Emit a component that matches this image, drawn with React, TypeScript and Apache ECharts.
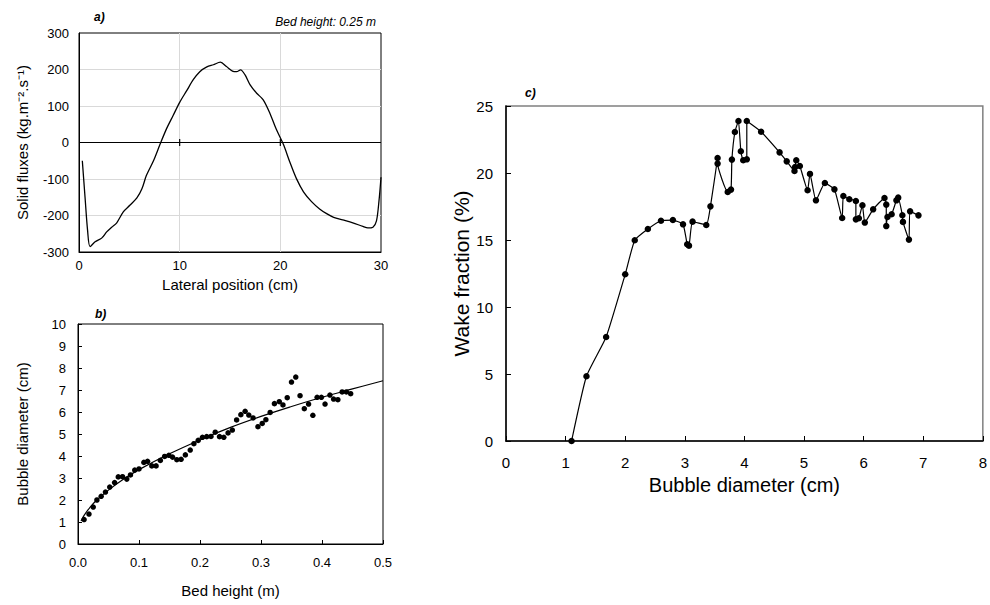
import React, { useEffect, useRef } from "react";
import * as echarts from "echarts";

// Panel a) solid fluxes vs lateral position (bed height 0.25 m)
const fluxX = [0.33, 0.6, 0.85, 1.1, 1.6, 2.25, 2.75, 3.25, 3.75, 4.4, 5.05, 5.75, 6.25, 6.7, 7.4, 8.05, 8.7, 9.35, 10.0, 10.7, 11.35, 12.0, 12.7, 13.35, 14.05, 14.65, 15.3, 15.65, 16.05, 16.5, 17.0, 17.65, 18.3, 18.95, 19.6, 20.3, 20.95, 21.6, 22.3, 23.1, 23.9, 24.6, 25.3, 26.2, 27.2, 28.2, 28.7, 29.2, 29.55, 29.8, 30.0];
const fluxY = [-50, -150, -240, -285, -272, -262, -245, -232, -220, -190, -172, -152, -127, -90, -50, -5, 38, 74, 110, 142, 172, 194, 207, 213, 220, 208, 195, 194, 199, 185, 158, 135, 117, 81, 36, -5, -54, -99, -135, -162, -182, -195, -205, -212, -220, -230, -234, -232, -215, -160, -95];
const fluxTicks = [10, 20];

// Panel b) bubble diameter vs bed height
const bedH = [0.010, 0.018, 0.025, 0.031, 0.038, 0.045, 0.052, 0.060, 0.066, 0.073, 0.080, 0.086, 0.093, 0.100, 0.108, 0.114, 0.121, 0.128, 0.135, 0.142, 0.149, 0.155, 0.162, 0.169, 0.176, 0.184, 0.190, 0.197, 0.204, 0.211, 0.218, 0.225, 0.232, 0.239, 0.246, 0.253, 0.260, 0.267, 0.274, 0.280, 0.287, 0.295, 0.302, 0.308, 0.315, 0.322, 0.330, 0.336, 0.343, 0.350, 0.357, 0.364, 0.371, 0.378, 0.385, 0.392, 0.399, 0.405, 0.413, 0.419, 0.426, 0.433, 0.440, 0.447];
const bubD = [1.11, 1.36, 1.68, 2.00, 2.17, 2.36, 2.59, 2.79, 3.05, 3.06, 2.95, 3.14, 3.36, 3.41, 3.71, 3.76, 3.55, 3.55, 3.80, 3.98, 4.03, 3.95, 3.83, 3.85, 4.05, 4.27, 4.56, 4.71, 4.85, 4.88, 4.89, 5.08, 4.88, 4.85, 5.05, 5.18, 5.64, 5.88, 6.03, 5.86, 5.73, 5.33, 5.48, 5.65, 5.98, 6.38, 6.47, 6.32, 6.65, 7.36, 7.59, 6.74, 6.15, 6.36, 5.85, 6.67, 6.67, 6.36, 6.77, 6.59, 6.56, 6.91, 6.91, 6.83];
const fitH = [0.005, 0.01, 0.02, 0.03, 0.05, 0.075, 0.1, 0.15, 0.2, 0.25, 0.3, 0.35, 0.4, 0.45, 0.5];
const fitD = [1.05, 1.3, 1.68, 1.98, 2.45, 2.95, 3.38, 4.1, 4.73, 5.3, 5.8, 6.25, 6.67, 7.05, 7.42];

// Panel c) wake fraction vs bubble diameter
const wakeD = [1.10, 1.35, 1.68, 2.00, 2.16, 2.38, 2.60, 2.80, 2.97, 3.04, 3.07, 3.13, 3.36, 3.43, 3.55, 3.55, 3.72, 3.775, 3.79, 3.84, 3.90, 3.94, 3.98, 4.04, 4.04, 4.28, 4.59, 4.71, 4.84, 4.85, 4.87, 4.93, 5.06, 5.10, 5.20, 5.35, 5.51, 5.64, 5.66, 5.76, 5.87, 5.87, 5.92, 5.98, 6.02, 6.16, 6.35, 6.38, 6.38, 6.40, 6.47, 6.55, 6.58, 6.65, 6.66, 6.76, 6.78, 6.92];
const wakeF = [0, 4.83, 7.76, 12.44, 14.98, 15.82, 16.44, 16.49, 16.17, 14.68, 14.58, 16.37, 16.12, 17.51, 21.12, 20.70, 18.58, 18.76, 21.0, 23.06, 23.88, 21.62, 20.95, 21.02, 23.88, 23.08, 21.54, 20.87, 20.15, 20.45, 20.95, 20.52, 18.71, 19.93, 17.96, 19.25, 18.78, 16.64, 18.28, 18.04, 17.91, 16.54, 16.62, 17.59, 16.3, 17.29, 18.13, 17.64, 16.04, 16.72, 16.92, 17.96, 18.16, 16.85, 16.35, 15.03, 17.14, 16.84];

const FONT = '"Liberation Sans", Arial, Helvetica, sans-serif';

const pairs = (xs: number[], ys: number[]) => xs.map((x, i) => [x, ys[i]]);

export default function App() {
  const ref = useRef<HTMLDivElement>(null);
  useEffect(() => {
    document.body.style.margin = "0";
    const chart = echarts.init(ref.current!, null, { renderer: "svg" });
    const black = "#000";
    const labelA = { color: black, fontSize: 13, fontFamily: FONT };
    const option: any = {
      animation: false,
      backgroundColor: "#fff",
      textStyle: { fontFamily: FONT, color: black },
      title: [
        { text: "a)", left: 89, top: 6, textStyle: { fontSize: 12, fontStyle: "italic", fontWeight: "bold", color: black, fontFamily: FONT } },
        { text: "Bed height: 0.25 m", right: 609, top: 11, textStyle: { fontSize: 12, fontStyle: "italic", fontWeight: "normal", color: black, fontFamily: FONT } },
        { text: "b)", left: 90, top: 303, textStyle: { fontSize: 12, fontStyle: "italic", fontWeight: "bold", color: black, fontFamily: FONT } },
        { text: "c)", left: 520, top: 82, textStyle: { fontSize: 12, fontStyle: "italic", fontWeight: "bold", color: black, fontFamily: FONT } },
      ],
      grid: [
        { left: 79, top: 33, width: 302, height: 219, show: true, borderColor: black, borderWidth: 1, backgroundColor: "transparent" },
        { left: 78, top: 324, width: 305, height: 220, show: true, borderColor: black, borderWidth: 1, backgroundColor: "transparent" },
        { left: 506, top: 106, width: 477, height: 335, show: true, borderColor: "#808080", borderWidth: 1.5, backgroundColor: "transparent" },
      ],
      xAxis: [
        {
          gridIndex: 0, type: "value", min: 0, max: 30, interval: 10,
          axisLine: { show: true, onZero: false, lineStyle: { color: black, width: 1 } },
          axisTick: { show: false },
          axisLabel: { ...labelA, margin: 7 },
          splitLine: { show: true, showMinLine: false, showMaxLine: false, lineStyle: { color: "#d9d9d9", width: 1 } },
          name: "Lateral position (cm)", nameLocation: "middle", nameGap: 25,
          nameTextStyle: { fontSize: 15, color: black, fontFamily: FONT },
        },
        {
          gridIndex: 1, type: "value", min: 0, max: 0.5, interval: 0.1,
          axisLine: { show: true, onZero: false, lineStyle: { color: black, width: 1 } },
          axisTick: { show: true, inside: true, length: 4, lineStyle: { color: black } },
          axisLabel: { ...labelA, margin: 12, formatter: (v: number) => v.toFixed(1) },
          splitLine: { show: false },
          name: "Bed height (m)", nameLocation: "middle", nameGap: 39,
          nameTextStyle: { fontSize: 15, color: black, fontFamily: FONT },
        },
        {
          gridIndex: 2, type: "value", min: 0, max: 8, interval: 1,
          axisLine: { show: true, onZero: false, lineStyle: { color: black, width: 1.5 } },
          axisTick: { show: true, inside: true, length: 5, lineStyle: { color: black } },
          axisLabel: { color: black, fontSize: 15, fontFamily: FONT, margin: 14 },
          splitLine: { show: false },
          name: "Bubble diameter (cm)", nameLocation: "middle", nameGap: 34,
          nameTextStyle: { fontSize: 20, color: black, fontFamily: FONT },
        },
      ],
      yAxis: [
        {
          gridIndex: 0, type: "value", min: -300, max: 300, interval: 100,
          axisLine: { show: true, onZero: false, lineStyle: { color: black, width: 1 } },
          axisTick: { show: false },
          axisLabel: { ...labelA, margin: 10 },
          splitLine: { show: true, showMinLine: false, showMaxLine: false, lineStyle: { color: "#d9d9d9", width: 1 } },
          name: "Solid fluxes (kg.m\u207B\u00B2.s\u207B\u00B9)", nameLocation: "middle", nameGap: 49,
          nameTextStyle: { fontSize: 15, color: black, fontFamily: FONT },
        },
        {
          gridIndex: 1, type: "value", min: 0, max: 10, interval: 1,
          axisLine: { show: true, onZero: false, lineStyle: { color: black, width: 1 } },
          axisTick: { show: true, inside: true, length: 4, lineStyle: { color: black } },
          axisLabel: { ...labelA, margin: 12 },
          splitLine: { show: false },
          name: "Bubble diameter (cm)", nameLocation: "middle", nameGap: 48,
          nameTextStyle: { fontSize: 15, color: black, fontFamily: FONT },
        },
        {
          gridIndex: 2, type: "value", min: 0, max: 25, interval: 5,
          axisLine: { show: true, onZero: false, lineStyle: { color: black, width: 1.5 } },
          axisTick: { show: true, inside: true, length: 5, lineStyle: { color: black } },
          axisLabel: { color: black, fontSize: 15, fontFamily: FONT, margin: 13 },
          splitLine: { show: false },
          name: "Wake fraction (%)", nameLocation: "middle", nameGap: 32,
          nameTextStyle: { fontSize: 21, color: black, fontFamily: FONT },
        },
      ],
      series: [
        {
          type: "line", xAxisIndex: 0, yAxisIndex: 0, data: pairs(fluxX, fluxY),
          showSymbol: false, symbol: "none", smooth: 0.3,
          lineStyle: { color: black, width: 1.3 },
          markLine: {
            silent: true, symbol: "none", label: { show: false },
            lineStyle: { color: black, width: 1.2, type: "solid" },
            data: [{ yAxis: 0 }],
          },
          z: 3,
        },
        {
          type: "scatter", xAxisIndex: 0, yAxisIndex: 0,
          data: fluxTicks.map((x) => [x, 0]),
          symbol: "rect", symbolSize: [1.2, 7], itemStyle: { color: black, opacity: 1 }, silent: true, z: 4,
        },
        {
          type: "line", xAxisIndex: 1, yAxisIndex: 1, data: pairs(fitH, fitD),
          showSymbol: false, symbol: "none", smooth: 0.4,
          lineStyle: { color: black, width: 1.2 }, z: 3,
        },
        {
          type: "scatter", xAxisIndex: 1, yAxisIndex: 1, data: pairs(bedH, bubD),
          symbol: "circle", symbolSize: 5.5, itemStyle: { color: black, opacity: 1 }, z: 4,
        },
        {
          type: "line", xAxisIndex: 2, yAxisIndex: 2, data: pairs(wakeD, wakeF),
          symbol: "circle", symbolSize: 6.5, showSymbol: true, smooth: 0.15,
          itemStyle: { color: black, opacity: 1 }, lineStyle: { color: black, width: 1.2 }, z: 3,
        },
      ],
    };
    chart.setOption(option);
    return () => chart.dispose();
  }, []);
  return <div ref={ref} style={{ width: 990, height: 605 }} />;
}
